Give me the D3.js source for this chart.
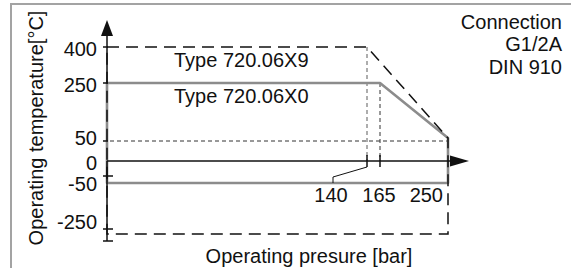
<!DOCTYPE html>
<html><head><meta charset="utf-8">
<script src="https://cdn.jsdelivr.net/npm/d3@7"></script>
<style>html,body{margin:0;padding:0;background:#fff;}svg{display:block;font-family:"Liberation Sans",Arial,sans-serif;}</style>
</head><body><svg id="c" width="571" height="268"></svg>
<script>
// ---- data ----
const tempTicks = [400, 250, 50, 0, -50, -250];
const tempLabels = ["400", "250", "50", "0", "-50", "-250"];
const pressureTicks = [140, 165, 250];
const pressureLabels = ["140", "165", "250"];
const type9Pressure = [0, 140, 250, 250, 0];
const type9Temp = [400, 400, 60, -250, -250];
const type0Pressure = [0, 165, 250, 250, 0];
const type0Temp = [250, 250, 60, -50, -50];
const seriesNames = ["Type 720.06X9", "Type 720.06X0"];
const noteLines = ["Connection", "G1/2A", "DIN 910"];
const xTitle = "Operating presure [bar]";
const yTitle = "Operating temperature[°C]";

// ---- layout ----
const svg = d3.select("#c");
const x = d3.scaleLinear().domain([0, 140, 165, 250]).range([107, 367, 380, 448]);
const y = d3.scaleLinear().domain([-250, -50, 0, 50, 250, 400]).range([234, 183, 161, 141, 83, 47]);
const fs = 20, ink = "#111", gray = "#8c8c8c";

// frame
svg.append("path").attr("d", "M11,268V4H571").attr("fill", "none").attr("stroke", "#a3a3a3").attr("stroke-width", 2);

const pts = (P, T) => P.map((p, i) => [x(p), y(T[i])]);
const line = d3.line();

// guides
svg.append("line").attr("x1", x(0) + 3).attr("x2", x(250)).attr("y1", y(50)).attr("y2", y(50))
  .attr("stroke", "#333").attr("stroke-width", 1).attr("stroke-dasharray", "4,3");
svg.append("line").attr("x1", x(140)).attr("x2", x(140)).attr("y1", y(400)).attr("y2", y(0))
  .attr("stroke", "#777").attr("stroke-width", 1.2).attr("stroke-dasharray", "4,3");
svg.append("line").attr("x1", x(165)).attr("x2", x(165)).attr("y1", y(250)).attr("y2", y(0))
  .attr("stroke", "#333").attr("stroke-width", 1).attr("stroke-dasharray", "4,3");

// Type X0 region (gray solid)
svg.append("path").attr("d", line(pts(type0Pressure, type0Temp)) + "Z")
  .attr("fill", "none").attr("stroke", gray).attr("stroke-width", 2.6).attr("stroke-linejoin", "round");
// Type X9 region (dashed black)
svg.append("path").attr("d", line(pts(type9Pressure, type9Temp)) + "Z")
  .attr("fill", "none").attr("stroke", ink).attr("stroke-width", 1.5).attr("stroke-dasharray", "12,7");

// axes
const ax = svg.append("g").attr("stroke", ink).attr("stroke-width", 1.5);
ax.append("line").attr("x1", x(0)).attr("x2", x(0)).attr("y1", 241).attr("y2", y(0));
ax.append("line").attr("x1", x(0)).attr("x2", x(0)).attr("y1", y(250)).attr("y2", 36);
ax.append("line").attr("x1", x(0)).attr("x2", 451).attr("y1", y(0)).attr("y2", y(0));
svg.append("path").attr("d", `M${x(0)},20L${x(0) - 6},36L${x(0) + 6},36Z`).attr("fill", ink);
svg.append("path").attr("d", `M469,${y(0)}L450,${y(0) - 5.5}L450,${y(0) + 5.5}Z`).attr("fill", ink);

// y ticks
tempTicks.forEach(t => {
  if (t === 0 || t === -50 || t === -250) return;
  ax.append("line").attr("x1", x(0) - 4).attr("x2", x(0) + 1).attr("y1", y(t)).attr("y2", y(t));
});
[176, 229, 241].forEach(py => ax.append("line").attr("x1", x(0) - 4).attr("x2", x(0) + 6).attr("y1", py).attr("y2", py));
const nudge = {"400": 1.5, "250": 2, "50": -3, "0": 1.5, "-50": 1, "-250": -12};
svg.append("g").selectAll("text").data(tempTicks).join("text")
  .attr("x", 97).attr("y", (d, i) => y(d) + nudge[tempLabels[i]]).attr("dy", "0.36em")
  .attr("text-anchor", "end").attr("font-size", fs).attr("fill", ink)
  .text((d, i) => tempLabels[i]);

// x ticks
[140, 165].forEach(p => ax.append("line").attr("x1", x(p)).attr("x2", x(p)).attr("y1", y(0) - 6).attr("y2", y(0) + 6));
const xl = svg.append("g").attr("font-size", fs).attr("fill", ink);
xl.append("text").attr("x", x(pressureTicks[0]) - 36).attr("y", 202).attr("text-anchor", "middle").text(pressureLabels[0]);
xl.append("text").attr("x", x(pressureTicks[1]) - 1).attr("y", 202).attr("text-anchor", "middle").text(pressureLabels[1]);
xl.append("text").attr("x", x(pressureTicks[2]) - 5).attr("y", 202).attr("text-anchor", "end").text(pressureLabels[2]);
svg.append("path").attr("d", `M${x(140) - 34},${y(-50)}V177L${x(140)},167`)
  .attr("fill", "none").attr("stroke", ink).attr("stroke-width", 1);

// series labels
svg.append("text").attr("x", 174).attr("y", y(400) + 20).attr("font-size", fs).attr("fill", ink).text(seriesNames[0]);
svg.append("text").attr("x", 174).attr("y", y(250) + 20).attr("font-size", fs).attr("fill", ink).text(seriesNames[1]);

// note
svg.append("g").selectAll("text").data(noteLines).join("text")
  .attr("x", 562).attr("y", (d, i) => 29 + i * 22.4).attr("text-anchor", "end")
  .attr("font-size", fs).attr("fill", ink).text(d => d);

// axis titles
svg.append("text").attr("x", 309).attr("y", 263).attr("text-anchor", "middle").attr("font-size", fs).attr("fill", ink).text(xTitle);
svg.append("text").attr("transform", "translate(42.5,128) rotate(-90)").attr("text-anchor", "middle")
  .attr("font-size", fs).attr("fill", ink).text(yTitle);
</script></body></html>
